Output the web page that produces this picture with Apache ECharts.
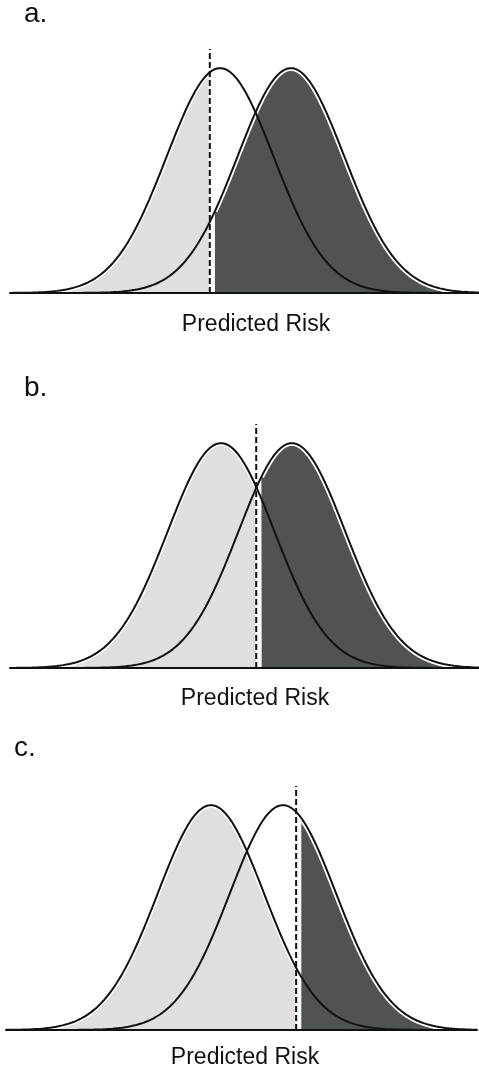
<!DOCTYPE html>
<html>
<head>
<meta charset="utf-8">
<title>Predicted Risk distributions</title>
<script src="https://cdn.jsdelivr.net/npm/echarts/dist/echarts.min.js"></script>
<style>
  html, body { margin: 0; padding: 0; background: #ffffff; }
  #chart { width: 479px; height: 1073px; }
</style>
</head>
<body>
<div id="chart"></div>
<script>
// Panel letters and axis caption
const panelLabels = ['a.', 'b.', 'c.'];
const axisCaption = 'Predicted Risk';

// Distribution parameters on a 0–1 predicted-risk scale
const nonEventMeans = [0.448, 0.450, 0.435];   // left (no event) group
const eventMeans    = [0.599, 0.601, 0.588];   // right (event) group
const groupSD       = [0.114, 0.114, 0.113];
const cutoffs       = [0.426, 0.525, 0.616];   // risk threshold per panel

// Layout of each panel
const gridTops   = [49, 424, 786];
const gridLefts  = [10, 10, 6];
const gridRights = [0, 0, 2];
const gridHeight = 244;
const yMax = 1.085;
const fillGap = 0.011;

const LIGHT = '#e0dfde';
const DARK = '#4f5354';

// Normal curve scaled to a peak height of 1
function bell(x, mu, sd) {
  const z = (x - mu) / sd;
  return Math.exp(-0.5 * z * z);
}
function curve(mu, sd, from, to) {
  const pts = [];
  const n = 300;
  for (let i = 0; i <= n; i++) {
    const x = i / n;
    if (x < from || x > to) continue;
    pts.push([x, bell(x, mu, sd)]);
  }
  if (from > 0) pts.unshift([from, bell(from, mu, sd)]);
  if (to < 1) pts.push([to, bell(to, mu, sd)]);
  return pts;
}

const grids = [], xAxes = [], yAxes = [], series = [], graphics = [];
const labelPos = [
  { lx: 24, ly: 14, cx: 256, cy: 325 },
  { lx: 24, ly: 388, cx: 255, cy: 699 },
  { lx: 14, ly: 748, cx: 245, cy: 1058 }
];

for (let i = 0; i < 3; i++) {
  grids.push({ left: gridLefts[i], right: gridRights[i], top: gridTops[i], height: gridHeight });
  xAxes.push({
    gridIndex: i, type: 'value', min: 0, max: 1, z: 10,
    axisLine: { show: true, onZero: false, lineStyle: { color: '#111', width: 2 } },
    axisTick: { show: false }, axisLabel: { show: false }, splitLine: { show: false }
  });
  yAxes.push({ gridIndex: i, type: 'value', min: 0, max: yMax, show: false });

  const t = cutoffs[i];
  const common = { xAxisIndex: i, yAxisIndex: i, type: 'line', showSymbol: false, silent: true, animation: false };

  // shaded area of the lower-risk group below the cutoff
  series.push(Object.assign({}, common, {
    data: curve(nonEventMeans[i], groupSD[i], 0, t - 0.002),
    lineStyle: { color: '#ffffff', width: 5 },
    areaStyle: { color: LIGHT, opacity: 1 }, z: 1
  }));
  // shaded area of the higher-risk group above the cutoff
  series.push(Object.assign({}, common, {
    data: curve(eventMeans[i], groupSD[i], t + fillGap, 1),
    lineStyle: { color: '#ffffff', width: 5.5 },
    areaStyle: { color: DARK, opacity: 1 }, z: 2
  }));
  // outlines of both groups
  series.push(Object.assign({}, common, {
    data: curve(nonEventMeans[i], groupSD[i], 0, 1),
    lineStyle: { color: '#111', width: 2 }, z: 3
  }));
  series.push(Object.assign({}, common, {
    data: curve(eventMeans[i], groupSD[i], 0, 1),
    lineStyle: { color: '#111', width: 2 }, z: 3
  }));
  // dashed cutoff line
  series.push(Object.assign({}, common, {
    data: [[t, 0], [t, yMax]],
    lineStyle: { color: '#111', width: 2, type: [6, 3] }, z: 4
  }));

  const p = labelPos[i];
  graphics.push({
    type: 'text', x: p.lx, y: p.ly,
    style: { text: panelLabels[i], fill: '#111', font: '28px "Liberation Sans", Arial, sans-serif',
             textAlign: 'left', textVerticalAlign: 'middle' }
  });
  graphics.push({
    type: 'text', x: p.cx, y: p.cy,
    style: { text: axisCaption, fill: '#111', font: '23px "Liberation Sans", Arial, sans-serif',
             textAlign: 'center', textVerticalAlign: 'middle' }
  });
}

const chart = echarts.init(document.getElementById('chart'), null, { renderer: 'canvas' });
chart.setOption({
  backgroundColor: '#ffffff',
  animation: false,
  grid: grids,
  xAxis: xAxes,
  yAxis: yAxes,
  series: series,
  graphic: graphics
});
</script>
</body>
</html>
